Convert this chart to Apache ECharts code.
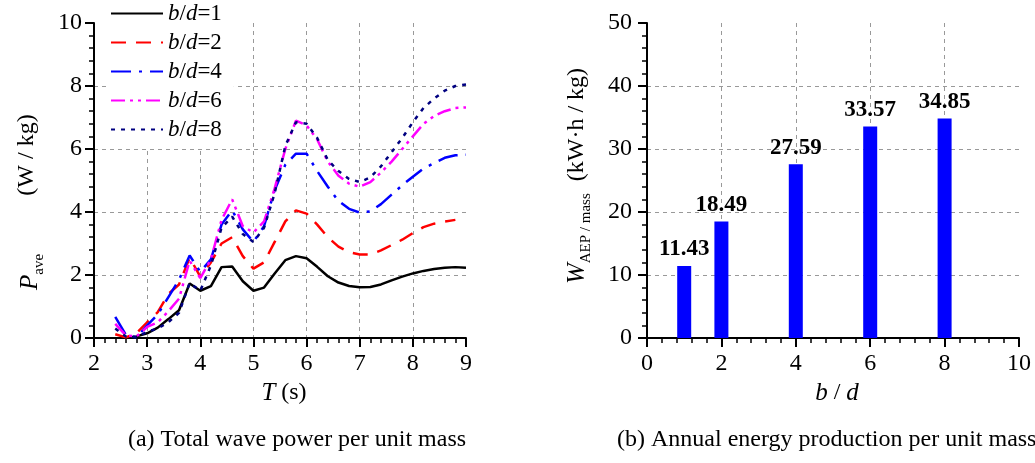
<!DOCTYPE html>
<html>
<head>
<meta charset="utf-8">
<script src="https://cdn.jsdelivr.net/npm/echarts@6/dist/echarts.min.js"></script>
<style>
html,body{margin:0;padding:0;background:#fff;}
#c{width:1035px;height:463px;}
</style>
</head>
<body>
<div id="c"></div>
<script>
// ---- data: (a) total wave power per unit mass ----
const T = [2.4, 2.6, 2.8, 3.0, 3.2, 3.4, 3.6, 3.8, 4.0, 4.2, 4.4, 4.6, 4.8, 5.0, 5.2, 5.4, 5.6, 5.8, 6.0, 6.2, 6.4, 6.6, 6.8, 7.0, 7.2, 7.4, 7.6, 7.8, 8.0, 8.2, 8.4, 8.6, 8.8, 9.0];
const P_bd1 = [null, 0.0, 0.05, 0.15, 0.33, 0.6, 0.88, 1.73, 1.5, 1.65, 2.25, 2.27, 1.8, 1.5, 1.6, 2.05, 2.47, 2.6, 2.53, 2.26, 1.96, 1.76, 1.65, 1.61, 1.62, 1.7, 1.83, 1.95, 2.05, 2.13, 2.19, 2.23, 2.25, 2.23];
const P_bd2 = [0.12, 0.02, 0.15, 0.5, 0.82, 1.4, 1.7, 2.55, 1.95, 2.4, 3.0, 3.2, 2.6, 2.2, 2.4, 3.05, 3.7, 4.05, 3.95, 3.6, 3.2, 2.9, 2.72, 2.65, 2.65, 2.78, 2.95, 3.12, 3.33, 3.52, 3.63, 3.7, 3.75, null];
const P_bd4 = [0.67, 0.1, 0.02, 0.4, 0.75, 1.3, 1.85, 2.62, 2.1, 2.5, 3.6, 4.05, 3.45, 3.05, 3.55, 4.7, 5.5, 5.85, 5.85, 5.3, 4.8, 4.35, 4.1, 3.98, 4.02, 4.25, 4.55, 4.85, 5.12, 5.38, 5.55, 5.72, 5.8, 5.82];
const P_bd6 = [0.45, 0.08, 0.05, 0.35, 0.5, 0.85, 1.25, 2.45, 1.9, 2.5, 3.75, 4.4, 3.55, 3.35, 3.7, 4.75, 6.0, 6.9, 6.75, 6.3, 5.6, 5.15, 4.9, 4.8, 4.95, 5.25, 5.6, 6.0, 6.4, 6.8, 7.05, 7.2, 7.3, 7.32];
const P_bd8 = [0.3, 0.05, 0.02, 0.2, 0.3, 0.5, 0.8, 1.75, 1.5, 2.3, 3.5, 3.85, 3.3, 3.05, 3.5, 4.6, 6.1, 6.85, 6.8, 6.35, 5.65, 5.3, 5.05, 4.95, 5.1, 5.45, 5.9, 6.35, 6.85, 7.3, 7.6, 7.85, 8.0, 8.05];
const seriesNames = ['b/d=1', 'b/d=2', 'b/d=4', 'b/d=6', 'b/d=8'];

// ---- data: (b) annual energy production per unit mass ----
const BD = [1, 2, 4, 6, 8];
const W_AEP = [11.43, 18.49, 27.59, 33.57, 34.85];

const SERIF = 'Liberation Serif, Times New Roman, serif';

function pairs(arr) {
  const out = [];
  T.forEach((t, i) => { if (arr[i] !== null) out.push([t, arr[i]]); });
  return out;
}

const lineSpecs = [
  { data: P_bd1, color: '#000000', type: 'solid' },
  { data: P_bd2, color: '#FF0000', type: [15, 10] },
  { data: P_bd4, color: '#0000FF', type: [20, 8, 3, 8] },
  { data: P_bd6, color: '#FF00FF', type: [14, 5, 3, 5, 3, 5] },
  { data: P_bd8, color: '#000080', type: [4, 6] }
];

const axisCommon = {
  axisLine: { show: true, onZero: false, lineStyle: { color: '#000', width: 2 } },
  axisTick: { show: true, length: 9, lineStyle: { color: '#000', width: 2 } },
  minorTick: { show: true, splitNumber: 5, length: 5, lineStyle: { color: '#000', width: 1.5 } },
  splitLine: { show: true, showMinLine: false, showMaxLine: false, lineStyle: { color: '#999', width: 1, type: [4, 4] } },
  axisLabel: { fontFamily: SERIF, fontSize: 24, color: '#000' }
};
function ax(extra, label) {
  return Object.assign({}, JSON.parse(JSON.stringify(axisCommon)), extra, { axisLabel: Object.assign({}, axisCommon.axisLabel, label) });
}

const chart = echarts.init(document.getElementById('c'), null, { renderer: 'canvas' });

const series = lineSpecs.map((s, k) => ({
  name: seriesNames[k],
  type: 'line',
  xAxisIndex: 0, yAxisIndex: 0,
  data: pairs(s.data),
  symbol: 'none',
  smooth: false,
  lineStyle: { color: s.color, width: 2.5, type: s.type },
  itemStyle: { color: s.color },
  z: 3 + k
}));
series.push({
  name: 'WAEP',
  type: 'bar',
  xAxisIndex: 1, yAxisIndex: 1,
  data: BD.map((b, i) => [b, W_AEP[i]]),
  barWidth: 14,
  itemStyle: { color: '#0000FF' },
  label: {
    show: true, position: 'top', distance: 5,
    formatter: p => p.value[1].toFixed(2),
    fontFamily: SERIF, fontSize: 23, fontWeight: 'bold', color: '#000'
  }
});

const titleRich = {
  i: { fontFamily: SERIF, fontStyle: 'italic', fontSize: 25, lineHeight: 34, verticalAlign: 'middle', fill: '#000' },
  s: { fontFamily: SERIF, fontSize: 15, lineHeight: 15, verticalAlign: 'bottom', fill: '#000' },
  n: { fontFamily: SERIF, fontSize: 24, lineHeight: 34, verticalAlign: 'middle', fill: '#000' }
};

const option = {
  backgroundColor: '#fff',
  animation: false,
  grid: [
    { left: 94, top: 23, width: 372, height: 315 },
    { left: 647, top: 23, width: 372, height: 315 }
  ],
  xAxis: [
    ax({ type: 'value', gridIndex: 0, min: 2, max: 9, interval: 1 }, { margin: 14 }),
    ax({ type: 'value', gridIndex: 1, min: 0, max: 10, interval: 2 }, { margin: 14 })
  ],
  yAxis: [
    ax({ type: 'value', gridIndex: 0, min: 0, max: 10, interval: 2 }, { margin: 12 }),
    ax({ type: 'value', gridIndex: 1, min: 0, max: 50, interval: 10 }, { margin: 15 })
  ],
  legend: {
    data: seriesNames,
    orient: 'vertical',
    left: 106, top: 0,
    padding: [2, 12, 6, 4],
    itemWidth: 52, itemHeight: 14, itemGap: 6,
    backgroundColor: '#fff',
    itemStyle: { opacity: 0 },
    formatter: name => {
      const n = name.split('=')[1];
      return '{i|b}{n|/}{i|d}{n|=' + n + '}';
    },
    textStyle: {
      color: '#000',
      rich: {
        i: { fontFamily: SERIF, fontStyle: 'italic', fontSize: 23, color: '#000' },
        n: { fontFamily: SERIF, fontSize: 23, color: '#000' }
      }
    }
  },
  graphic: [
    { type: 'text', x: 284, y: 393, silent: true,
      style: { text: '{i|T}{n| (s)}', align: 'center', verticalAlign: 'middle', rich: titleRich } },
    { type: 'text', x: 837, y: 393, silent: true,
      style: { text: '{i|b}{n| / }{i|d}', align: 'center', verticalAlign: 'middle', rich: titleRich } },
    { type: 'text', x: 30, y: 272, rotation: Math.PI / 2, silent: true,
      style: { text: '{i|P}{s|ave}', align: 'center', verticalAlign: 'middle', rich: titleRich } },
    { type: 'text', x: 27, y: 155, rotation: Math.PI / 2, silent: true,
      style: { text: '{n|(W / kg)}', align: 'center', verticalAlign: 'middle', rich: titleRich } },
    { type: 'text', x: 577, y: 176, rotation: Math.PI / 2, silent: true,
      style: { text: '{i|W}{s|AEP / mass}{n|  (kW·h / kg)}', align: 'center', verticalAlign: 'middle', rich: titleRich } },
    { type: 'text', x: 297, y: 440, silent: true,
      style: { text: '(a) Total wave power per unit mass', align: 'center', verticalAlign: 'middle',
        fontFamily: SERIF, fontSize: 24, fill: '#000' } },
    { type: 'text', x: 617, y: 440, silent: true,
      style: { text: '(b) Annual energy production per unit mass', align: 'left', verticalAlign: 'middle',
        fontFamily: SERIF, fontSize: 24, fill: '#000' } }
  ],
  series: series
};
chart.setOption(option);
</script>
</body>
</html>
